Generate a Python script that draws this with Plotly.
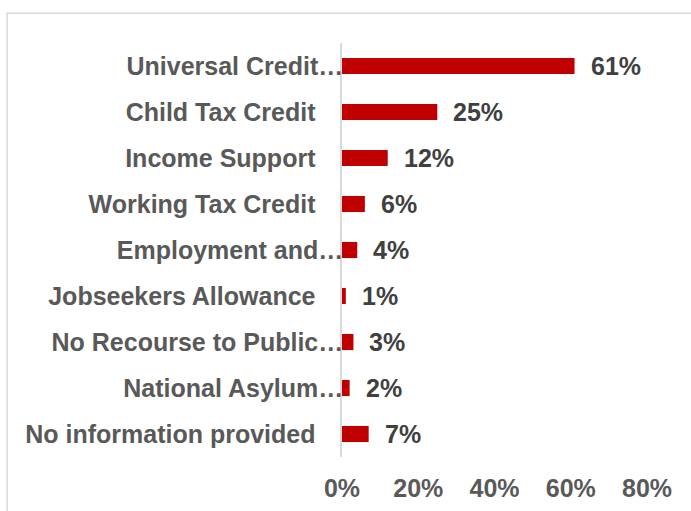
import plotly.graph_objects as go

categories = [
    "Universal Credit…",
    "Child Tax Credit",
    "Income Support",
    "Working Tax Credit",
    "Employment and…",
    "Jobseekers Allowance",
    "No Recourse to Public…",
    "National Asylum…",
    "No information provided",
]
values = [61, 25, 12, 6, 4, 1, 3, 2, 7]
tick_vals = [0, 20, 40, 60, 80]
tick_text = ["0%", "20%", "40%", "60%", "80%"]

BAR = "#C00000"
LABEL = "#595959"
VALUE = "#404040"
LINE = "#D9D9D9"
FONT = "Liberation Sans"
FS = 25

pad = "\u00a0" * 4
tick_labels = [c if c.endswith("…") else c + pad for c in categories]

fig = go.Figure(
    go.Bar(
        x=values,
        y=categories,
        orientation="h",
        marker=dict(color=BAR, line=dict(width=0)),
        width=0.35,
        hoverinfo="skip",
    )
)

for c, v in zip(categories, values):
    fig.add_annotation(
        x=v, y=c, text=f"<b>{v}%</b>", showarrow=False,
        xanchor="left", yanchor="middle", xshift=14,
        font=dict(family=FONT, size=FS, color=VALUE),
    )

fig.update_layout(
    width=691, height=511,
    margin=dict(l=342, r=44, t=43, b=54, autoexpand=False),
    paper_bgcolor="white", plot_bgcolor="white",
    showlegend=False,
    font=dict(family=FONT, size=FS, color=LABEL),
    shapes=[
        dict(type="rect", xref="paper", yref="paper",
             x0=-1.098, x1=3, y0=-3, y1=1.072,
             line=dict(color=LINE, width=1.5), fillcolor="rgba(0,0,0,0)", layer="below"),
    ],
)
fig.update_xaxes(
    range=[0, 80], tickvals=tick_vals, ticktext=[f"<b>{t}</b>" for t in tick_text],
    showgrid=False, zeroline=False, showline=False, ticks="",
    tickfont=dict(family=FONT, size=FS, color=LABEL), ticklabelstandoff=14,
    automargin=False,
)
fig.update_yaxes(
    categoryorder="array", categoryarray=categories[::-1],
    tickvals=categories, ticktext=[f"<b>{t}</b>" for t in tick_labels],
    showgrid=False, zeroline=False, showline=True, linecolor=LINE, linewidth=1.5,
    ticks="", tickfont=dict(family=FONT, size=FS, color=LABEL),
    ticklabelstandoff=-8, automargin=False,
)

fig.write_html(
    "out.html",
    config={"displayModeBar": False},
    post_script="document.body.style.margin='0';document.body.style.overflow='hidden';",
)
